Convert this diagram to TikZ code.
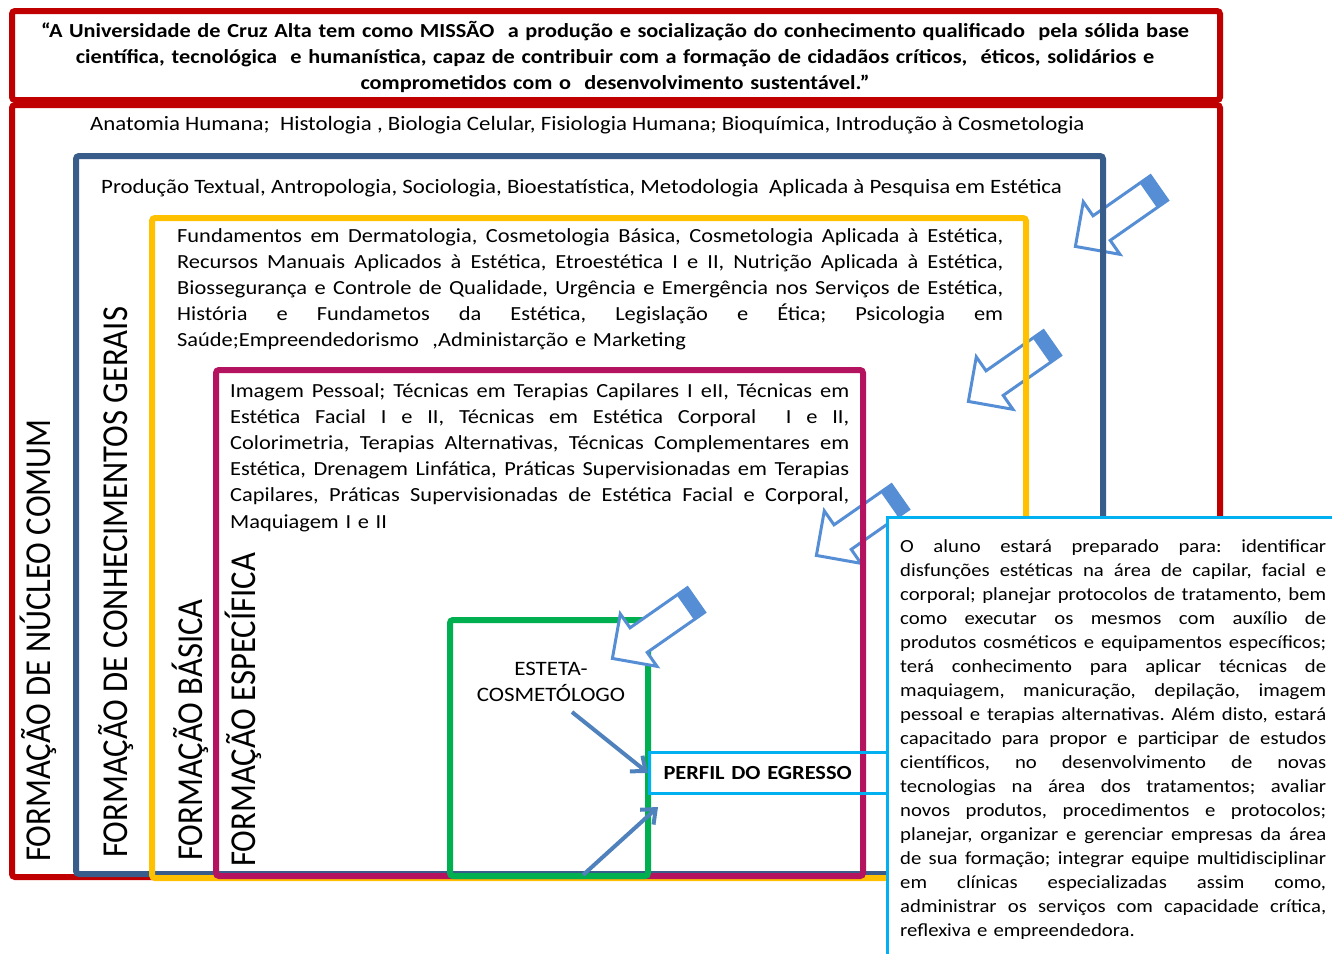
\documentclass[tikz,border=0pt]{standalone}
\usepackage{fontspec}
\setmainfont{Carlito}[FakeStretch=1.12]
\newfontfamily\vfont{Carlito}[FakeStretch=0.895]
\usetikzlibrary{arrows.meta}
\definecolor{cred}{HTML}{C00000}
\definecolor{cblue}{HTML}{385D8A}
\definecolor{cyel}{HTML}{FFC000}
\definecolor{cmag}{HTML}{B4145F}
\definecolor{cgreen}{HTML}{00B050}
\definecolor{ccyan}{HTML}{00B0F0}
\definecolor{ablue}{HTML}{558ED5}
\definecolor{tblue}{HTML}{4F81BD}
\newcommand\jline[1]{\makebox[\linewidth][s]{\spaceskip=0pt\xspaceskip=0pt\relax #1}}
\newcommand\blockarrow[2]{%
\begin{scope}[shift={(#1,#2)},x={(-0.8197pt,-0.5728pt)},y={(0.5728pt,-0.8197pt)}]
\path[fill=white] (0,-15) -- (70,-15) -- (70,-32) -- (102,0) -- (70,32) -- (70,15) -- (0,15) -- cycle;
\fill[ablue] (0,-15) -- (13,-15) -- (13,15) -- (0,15) -- cycle;
\draw[ablue, line width=3pt, line join=miter] (0,-15) -- (70,-15) -- (70,-32) -- (102,0) -- (70,32) -- (70,15) -- (0,15) -- cycle;
\end{scope}}
\begin{document}
\frenchspacing
\begin{tikzpicture}[x=1pt,y=-1pt,
  frame/.style={line width=6pt, rounded corners=3pt},
  body/.style={inner sep=0pt, font=\fontsize{20}{26.2}\selectfont},
  vlab/.style={rotate=90, anchor=base west, inner sep=0pt, font=\vfont\fontsize{36.5}{40}\selectfont},
  thinarr/.style={draw=tblue, line width=4pt, -{Straight Barb[length=12pt,width=20pt]}},
]
\useasboundingbox (0,0) rectangle (1332,954);
\fill[white] (0,0) rectangle (1332,954);
% block arrows behind frames
\blockarrow{1159}{188}
\blockarrow{1052}{343}
\blockarrow{900}{497}
% frames
\draw[frame,cred] (12,11) rectangle (1220,100);
\draw[frame,cred] (12,105) rectangle (1220,877);
\draw[frame,cblue] (76,156) rectangle (1103,874);
\draw[frame,cyel] (152,218) rectangle (1026,878);
\draw[frame,cmag] (216,370) rectangle (863,876);
\draw[frame,cgreen] (450,620) rectangle (648,876);
\blockarrow{696}{600}
% right text box
\fill[white] (887,517) rectangle (1332,954);
\draw[ccyan, line width=3pt] (887,954) -- (887,517) -- (1332,517);
% mission
\node[inner sep=0pt, text width=1250pt, align=center, anchor=base, font=\bfseries\fontsize{19.9}{26}\selectfont] (mission) at (615,37)
 {“A Universidade de Cruz Alta tem como MISSÃO\ \ a produção e socialização do conhecimento qualificado\ \ pela sólida base\\
 científica, tecnológica\ \ e humanística, capaz de contribuir com a formação de cidadãos críticos,\ \ éticos, solidários e\\
 comprometidos com o\ \ desenvolvimento sustentável.”};
\node[body, anchor=base west, font=\fontsize{20.4}{26}\selectfont] (nucleo) at (90,130) {Anatomia Humana;\ \ Histologia , Biologia Celular, Fisiologia Humana; Bioquímica, Introdução à Cosmetologia};
\node[body, anchor=base west, font=\fontsize{20.4}{26}\selectfont] (gerais) at (101,193) {Produção Textual, Antropologia, Sociologia, Bioestatística, Metodologia\ \ Aplicada à Pesquisa em Estética};
\node[body, anchor=base west, text width=826pt, align=left] (basica) at (177,242)
 {\jline{Fundamentos em Dermatologia, Cosmetologia Básica, Cosmetologia Aplicada à Estética,}\\
  \jline{Recursos Manuais Aplicados à Estética, Etroestética I e II, Nutrição Aplicada à Estética,}\\
  \jline{Biossegurança e Controle de Qualidade, Urgência e Emergência nos Serviços de Estética,}\\
  \jline{História e Fundametos da Estética, Legislação e Ética; Psicologia em}\\
  Saúde;Empreendedorismo\ \ ,Administarção e Marketing};
\node[body, anchor=base west, text width=619pt, align=left] (especifica) at (230,397)
 {\jline{Imagem Pessoal; Técnicas em Terapias Capilares I eII, Técnicas em}\\
  \jline{Estética Facial I e II, Técnicas em Estética Corporal\ \ I e II,}\\
  \jline{Colorimetria, Terapias Alternativas, Técnicas Complementares em}\\
  \jline{Estética, Drenagem Linfática, Práticas Supervisionadas em Terapias}\\
  \jline{Capilares, Práticas Supervisionadas de Estética Facial e Corporal,}\\
  Maquiagem I e II};
\node[inner sep=0pt, anchor=base west, text width=426pt, align=left, font=\fontsize{18.5}{24}\selectfont] (perfiltxt) at (900,552)
 {\jline{O aluno estará preparado para: identificar}\\
  \jline{disfunções estéticas na área de capilar, facial e}\\
  \jline{corporal; planejar protocolos de tratamento, bem}\\
  \jline{como executar os mesmos com auxílio de}\\
  \jline{produtos cosméticos e equipamentos específicos;}\\
  \jline{terá conhecimento para aplicar técnicas de}\\
  \jline{maquiagem, manicuração, depilação, imagem}\\
  \jline{pessoal e terapias alternativas. Além disto, estará}\\
  \jline{capacitado para propor e participar de estudos}\\
  \jline{científicos, no desenvolvimento de novas}\\
  \jline{tecnologias na área dos tratamentos; avaliar}\\
  \jline{novos produtos, procedimentos e protocolos;}\\
  \jline{planejar, organizar e gerenciar empresas da área}\\
  \jline{de sua formação; integrar equipe multidisciplinar}\\
  \jline{em clínicas especializadas assim como,}\\
  \jline{administrar os serviços com capacidade crítica,}\\
  reflexiva e empreendedora.};
\node[inner sep=0pt, anchor=base, text width=200pt, align=center, font=\fontsize{20.5}{26}\selectfont] (cosm) at (551,675) {ESTETA-\\COSMETÓLOGO};
\node[draw=ccyan, line width=3pt, inner xsep=14pt, inner ysep=0pt, text width=210pt, minimum height=41pt, align=left, anchor=west, font=\bfseries\fontsize{20}{24}\selectfont] (perfil) at (648,773) {PERFIL DO EGRESSO};
% vertical labels
\node[vlab] (lnucleo) at (50,862) {FORMAÇÃO DE NÚCLEO COMUM};
\node[vlab] (lgerais) at (127,858) {FORMAÇÃO DE CONHECIMENTOS GERAIS};
\node[vlab] (lbasica) at (202,861) {FORMAÇÃO BÁSICA};
\node[vlab] (lespec) at (255,867) {FORMAÇÃO ESPECÍFICA};
% thin arrows
\coordinate (ta) at (572,712);
\coordinate (tb) at (583,875);
\coordinate (tbe) at (658,807);
\draw[thinarr] (ta) -- (perfil.west);
\draw[thinarr] (tb) -- (tbe);
\end{tikzpicture}
\end{document}
